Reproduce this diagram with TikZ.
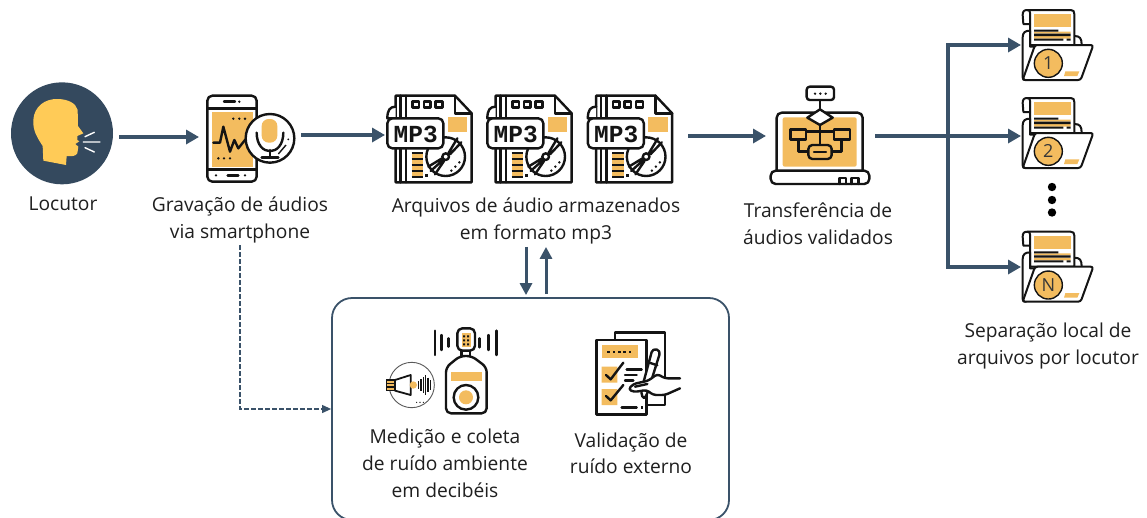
\documentclass[tikz,border=0pt]{standalone}
\usepackage{fontspec}
\setmainfont{Open Sans}
\newfontfamily\mpfont{Liberation Mono}
\usetikzlibrary{arrows.meta,calc}
\definecolor{inkc}{HTML}{141414}
\definecolor{orng}{HTML}{F3BC5F}
\definecolor{navy}{HTML}{3A5269}
\definecolor{disc}{HTML}{34495E}
\definecolor{yel}{HTML}{FFCB57}
\tikzset{
  px/.style={x=0.33333pt,y=-0.33333pt},
  ink/.style={draw=inkc,line width=2.4pt,line join=round,line cap=round},
  thin ink/.style={draw=inkc,line width=2pt,line join=round},
  org/.style={fill=orng,draw=none},
  blk/.style={fill=inkc,draw=none},
  flow/.style={draw=navy,line width=3.8pt,line join=miter,-{Triangle[length=13pt,width=14pt]}},
  dashflow/.style={draw=navy,line width=1.1pt,dash pattern=on 4.5pt off 2.5pt,-{Triangle[length=9pt,width=8pt]}},
  captxt/.style={font=\fontsize{19.2}{26.7}\selectfont,text=black!88,align=center,inner sep=0pt},
  anchorbox/.style={draw=none,inner sep=0pt,outer sep=0pt,minimum width=#1},
}
\newcommand\mpicon[2]{%
\begin{scope}[shift={(#1,85)},px]
 \path[ink,fill=white] (47,32)--(225,32)--(275,85)--(275,292)--(47,292)--cycle;
 \path[ink] (225,32)--(225,85)--(275,85);
 \foreach \xx in {62,78}{\path[ink] (\xx,32)--(\xx,100) (\xx,190)--(\xx,292);}
 \foreach \xx in {97,132,167}{\path[ink] (\xx,50) rectangle ++(20,18);}
 \path[org] (203,97) rectangle (262,140);
 \path[ink,fill=white] (197,215) circle [radius=58];
 \path[ink,fill=white] (197,215) circle [radius=10];
 \path[ink] (205,205)--(232,160) (210,208)--(244,172) (189,225)--(152,258) (186,220)--(145,245) (192,228)--(165,268);
 \path[blk] (238,232) circle [radius=4] (226,245) circle [radius=4] (214,257) circle [radius=4];
 \path[org] (95,200) rectangle (130,278);
 \foreach \yy in {204,222,240,258,276}{\path[draw=inkc,line width=2pt] (95,\yy)--(130,\yy);}
 \path[blk] (136,267) rectangle ++(8,8);
 \path[ink,fill=white] (47,65) .. controls (30,65) and (22,75) .. (22,100) -- (47,100);
 \path[ink,fill=white,rounded corners=5pt] (22,100) rectangle (190,190);
 \node[font=\mpfont\bfseries\fontsize{24.5}{24.5}\selectfont,text=inkc,inner sep=0pt] (#2) at (107,148) {MP3};
\end{scope}}
\newcommand\foldericon[3]{%
\begin{scope}[shift={(940,#1)},px]
 \path[thin ink,fill=white] (270,72)--(250,72)--(248,45) .. controls (248,34) and (252,30) .. (262,30) -- (392,30) .. controls (400,30) and (403,34) .. (403,42) -- (403,135)--(270,135)--cycle;
 \path[thin ink] (270,72)--(270,38) (262,30) .. controls (268,30) and (270,33) .. (270,38);
 \path[org] (282,42) rectangle (392,82);
 \path[org] (282,95) rectangle (392,101) (282,108) rectangle (392,116);
 \path[blk] (282,89) rectangle (355,95) (282,101) rectangle (392,108) (282,116) rectangle (370,122) (380,116) rectangle (392,122);
 \path[thin ink] (403,108) .. controls (420,108) and (425,115) .. (425,135);
 \path[thin ink,fill=white] (270,92) .. controls (255,92) and (248,98) .. (248,112) -- (248,232) .. controls (248,240) and (250,240) .. (258,240) -- (285,140) -- (270,140) -- cycle;
 \path[thin ink,fill=white,rounded corners=2.5pt] (285,135)--(460,135)--(422,240)--(248,240)--cycle;
 \path[fill=orng,draw=inkc,line width=1.4pt] (325,190) circle [radius=42];
 \path[org] (376,214)--(418,214)--(412,228)--(372,228)--cycle;
 \node[font=\fontsize{18}{18}\selectfont,text=inkc!85,inner sep=0pt] (#2) at (325,190) {#3};
\end{scope}}
\begin{document}
\begin{tikzpicture}[x=1pt,y=-1pt]
\useasboundingbox (0,0) rectangle (1147,517);
\clip (0,0) rectangle (1147,517);
\path[fill=white] (0,0) rectangle (1147,517);

% Locutor
\begin{scope}[shift={(0,70)},px]
 \path[fill=disc] (186,190) circle [radius=153];
 \path[fill=yel] (130,272)--(128,228) .. controls (110,200) and (98,180) .. (100,150)
   .. controls (102,110) and (135,85) .. (175,87) .. controls (205,88) and (228,100) .. (233,120)
   -- (234,168) -- (250,190) -- (232,198) -- (232,210) -- (238,214) -- (226,222) -- (235,230) -- (232,250)
   .. controls (228,258) and (215,260) .. (200,258) -- (198,285) -- cycle;
 \path[draw=white,line width=1.4pt,line cap=round] (255,200)--(283,187) (250,216)--(300,216) (255,233)--(283,246);
\end{scope}
% Phone
\begin{scope}[shift={(0,70)},px]
 \path[ink,fill=white,rounded corners=5pt] (622,77) rectangle (770,335);
 \path[ink] (622,115)--(770,115) (622,298)--(770,298) (672,95)--(705,95) (683,316)--(715,316);
 \path[blk] (718,95) circle [radius=4] (648,316) circle [radius=4] (735,316) circle [radius=4];
 \path[org] (636,125) rectangle (760,290);
 \path[ink] (640,218)--(660,218)--(670,170)--(690,245)--(703,210)--(715,235)--(735,210);
 \foreach \xx in {700,718,735}{\path[blk] (\xx,146) circle [radius=4];}
 \foreach \xx in {655,672,690}{\path[blk] (\xx,265) circle [radius=4];}
 \path[ink,fill=white] (810,205) circle [radius=73];
 \path[org,rounded corners=7pt] (785,147) rectangle (832,218);
 \path[ink] (770,188) .. controls (770,262) and (850,262) .. (850,188);
 \path[ink] (810,240)--(810,262) (785,262)--(835,262);
 \path[draw=inkc,line width=1.4pt] (858,225)--(835,252);
 \path[blk] (865,208) circle [radius=3];
\end{scope}
% MP3 files
\mpicon{380}{mpa}
\mpicon{480}{mpb}
\mpicon{580.5}{mpc}
% Laptop
\begin{scope}[shift={(760,80)},px]
 \path[ink,fill=white,rounded corners=5pt] (50,270)--(50,98)--(308,98)--(308,270);
 \path[org,rounded corners=2pt] (68,112) rectangle (290,260);
 \path[ink,fill=white,rounded corners=5pt] (32,272)--(328,272)--(328,312)--(32,312)--cycle;
 \path[ink] (238,312)--(238,294)--(258,294)--(258,312) (275,312)--(275,294)--(295,294)--(295,312);
 \path[ink] (180,60)--(180,88) (180,135)--(180,195) (115,155)--(245,155) (115,178)--(115,215)--(145,215) (245,178)--(245,215)--(215,215);
 \path[ink,fill=white] (180,88)--(218,113)--(180,135)--(142,113)--cycle;
 \path[ink,fill=white,rounded corners=3pt] (140,20) rectangle (222,60);
 \foreach \xx in {165,181,197}{\path[blk] (\xx,41) circle [radius=4];}
 \path[ink,fill=orng] (92,148) rectangle (138,178);
 \path[ink,fill=orng] (222,148) rectangle (270,178);
 \path[ink,fill=orng,rounded corners=4pt] (145,195) rectangle (215,237);
 \path[ink] (162,216)--(198,216);
\end{scope}
% Folders
\foldericon{0}{fa}{1}
\foldericon{88}{fb}{2}
\foldericon{221.7}{fc}{N}
\path[fill=black] (1052,187) circle [radius=4.2] (1052,200) circle [radius=4.2] (1052,212.5) circle [radius=4.2];

% Box
\node[draw=navy,line width=1.8pt,rounded corners=20pt,minimum width=397pt,minimum height=222pt,inner sep=0pt,anchor=center] (mbox) at (530.5,409) {};

% Meter
\begin{scope}[shift={(370,320)},px]
 \path[draw=inkc!70,line width=0.9pt] (125,195) circle [radius=68];
 \path[org] (50,180) rectangle (75,212);
 \path[draw=inkc,line width=1.2pt] (50,180) rectangle (75,212) (50,190)--(75,190) (50,201)--(75,201);
 \path[ink,line width=1.8pt] (75,180)--(122,165)--(122,225)--(75,212);
 \path[org] (130,195) circle [radius=11];
 \foreach \xx/\hh in {146/12,153/18,160/24,167/30,174/22,181/14}{\path[draw=inkc,line width=1.3pt] (\xx,195-\hh)--(\xx,195+\hh);}
 \path[blk] (140,247) circle [radius=2] (150,247) circle [radius=2] (160,247) circle [radius=2];
 \path[ink] (195,32)--(195,105) (215,45)--(215,90) (235,55)--(235,80) (328,55)--(328,82) (355,45)--(355,90) (380,32)--(380,105);
 \path[ink,fill=white,rounded corners=5pt] (262,25) rectangle (315,92);
 \path[org] (275,38) rectangle (302,80);
 \foreach \yy in {46,58,70}{\path[blk] (279,\yy) rectangle ++(6,6) (291,\yy) rectangle ++(6,6);}
 \path[ink] (275,92)--(275,108) (300,92)--(300,108);
 \path[ink,fill=white,rounded corners=5pt] (270,108)--(305,108)--(350,142)--(350,280)--(228,280)--(228,142)--cycle;
 \path[org] (242,157) rectangle (335,182);
 \path[ink,fill=white] (288,232) circle [radius=37];
 \path[org] (288,232) circle [radius=21];
\end{scope}
% Checklist
\begin{scope}[shift={(370,320)},px]
 \path[ink] (735,60)--(735,38)--(885,38)--(885,255)--(830,255);
 \path[ink,fill=white] (680,60)--(830,60)--(830,283)--(680,283)--cycle;
 \path[org] (695,75) rectangle (803,115);
 \foreach \xx in {712,728,744,760,776}{\path[blk] (\xx,92) rectangle ++(8,8);}
 \path[org] (695,140) rectangle (742,188) (695,207) rectangle (742,255);
 \path[ink] (708,165)--(722,178)--(760,128) (708,228)--(722,241)--(760,195);
 \path[ink] (770,148)--(815,148) (765,165)--(800,165) (765,182)--(790,182) (755,262)--(800,262);
 \path[blk] (812,258) rectangle ++(8,8);
 \path[ink,fill=white,rounded corners=4pt] (848,85)--(872,92)--(832,220)--(822,240)--(812,218)--cycle;
 \path[ink] (838,128)--(862,136);
 \path[ink,fill=white,rounded corners=3pt] (930,175)--(885,175)--(862,162)--(835,182)--(790,192)--(775,208)--(792,216)--(830,210)--(850,225)--(885,225)--(930,205);
 \path[ink] (795,200)--(832,192);
\end{scope}

% Captions
\node[captxt] (tloc) at (63,204) {Locutor};
\node[captxt,anchor=north] (tgrav) at (240,197) {Gravação de áudios\\via smartphone};
\node[captxt,anchor=north] (tarq) at (536,197.5) {Arquivos de áudio armazenados\\em formato mp3};
\node[captxt,anchor=north] (ttra) at (818,202.5) {Transferência de\\áudios validados};
\node[captxt,anchor=north] (tsep) at (1048,323) {Separação local de\\arquivos por locutor};
\node[captxt,anchor=north] (tmed) at (445,429) {Medição e coleta\\de ruído ambiente\\em decibéis};
\node[captxt,anchor=north] (tval) at (631,432.5) {Validação de\\ruído externo};

% Anchors for connectors
\node[anchorbox=107pt] (nloc) at (65.5,137) {};
\node[anchorbox=102pt] (nphone) at (250,137) {};
\node[anchorbox=0pt] (nmpa) at (385,135) {};
\node[anchorbox=0pt] (nmpc) at (688,136) {};
\node[anchorbox=109pt] (nlap) at (820.5,136) {};
\node[anchorbox=0pt] (nfa) at (1021,45) {};
\node[anchorbox=0pt] (nfb) at (1021,136) {};
\node[anchorbox=0pt] (nfc) at (1021,267) {};
\coordinate (bus) at (948,136);

% Connectors
\draw[flow] (nloc.east) -- (nphone.west);
\draw[flow] ([yshift=2pt]nphone.east) -- (nmpa.center);
\draw[flow] (nmpc.center) -- (nlap.west);
\draw[flow] (nlap.east) -- (nfb.center);
\draw[flow] (bus) |- (nfa.center);
\draw[flow] (bus) |- (nfc.center);
\draw[dashflow,shorten <=2pt] (tgrav.south) |- (mbox.west);
\draw[flow,line width=3pt,-{Triangle[length=12pt,width=12pt]},shorten <=3pt,shorten >=2pt] ([xshift=-10pt]tarq.south) -- ([xshift=-10pt]tarq.south |- mbox.north);
\draw[flow,line width=3pt,-{Triangle[length=12pt,width=12pt]},shorten >=3pt,shorten <=3pt] ([xshift=10pt]tarq.south |- mbox.north) -- ([xshift=10pt]tarq.south);
\end{tikzpicture}
\end{document}
